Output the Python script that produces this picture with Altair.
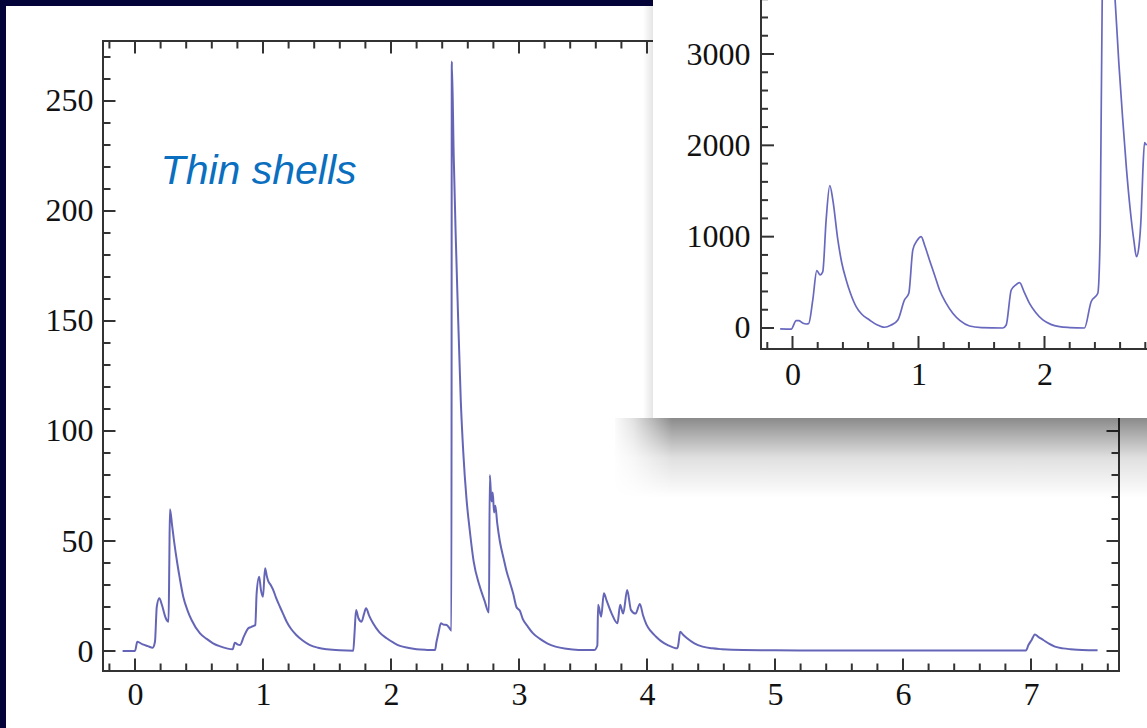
import altair as alt
import pandas as pd

# ---------------------------------------------------------------- data
# thin-shell spectrum (main panel)
thin_x = [-0.097, 0.0, 0.018, 0.06, 0.10, 0.138, 0.156, 0.17, 0.19, 0.21, 0.24, 0.262, 0.268, 0.273,
          0.29, 0.305, 0.33, 0.35, 0.377, 0.41, 0.443, 0.508, 0.56, 0.61, 0.66, 0.716, 0.763,
          0.78, 0.80, 0.82, 0.85, 0.87, 0.885, 0.91, 0.94, 0.95, 0.97, 0.984, 1.0, 1.016,
          1.03, 1.04, 1.06, 1.08, 1.10, 1.133, 1.16, 1.185, 1.22, 1.26, 1.31, 1.367, 1.43, 1.5, 1.6,
          1.705, 1.715, 1.727, 1.745, 1.77, 1.79, 1.805, 1.83, 1.86, 1.91, 1.966, 2.02, 2.07, 2.14,
          2.2, 2.28, 2.344, 2.355, 2.37, 2.39, 2.41, 2.435, 2.455, 2.472, 2.475, 2.49, 2.505, 2.52,
          2.545, 2.565, 2.59, 2.615, 2.645, 2.69, 2.73, 2.765, 2.772, 2.785, 2.795, 2.805, 2.815,
          2.83, 2.85, 2.88, 2.904, 2.93, 2.955, 2.98, 2.995, 3.005, 3.03, 3.07, 3.11, 3.164, 3.22,
          3.285, 3.37, 3.466, 3.587, 3.612, 3.618, 3.642, 3.663, 3.684, 3.724, 3.769, 3.79, 3.814,
          3.845, 3.875, 3.911, 3.944, 3.97, 3.996, 4.03, 4.071, 4.11, 4.162, 4.238, 4.245, 4.259,
          4.28, 4.313, 4.37, 4.434, 4.51, 4.586, 4.75, 5.0, 5.5, 6.0, 6.5, 6.96, 6.98, 7.005, 7.03,
          7.06, 7.096, 7.14, 7.187, 7.25, 7.308, 7.4, 7.52]
thin_y = [0, 0, 4.2, 3.0, 2.2, 1.5, 4.2, 20, 24, 21, 15, 13.3, 40, 64.4,
          57, 50, 40, 33, 24.7, 18.5, 14, 8, 5.5, 3.5, 2.2, 1.2, 0.8,
          3.8, 3.0, 2.7, 6.5, 9, 10.3, 11, 11.8, 26, 33.8, 27.7, 24.7, 37.6,
          34, 32, 30, 27.7, 24.5, 20, 16.5, 13.3, 10, 7.3, 4.8, 2.7, 1.5, 0.8, 0.3,
          0.1, 8, 18.6, 15, 13.3, 17, 19.4, 16, 12.6, 8.5, 5.8, 3.8, 2.3, 1.4,
          0.8, 0.5, 0.4, 4, 8, 12.6, 12, 11.8, 10.5, 9.2, 268, 225, 190, 160,
          114, 90, 69, 55, 41, 30, 23, 17.5, 80, 68, 72, 63, 66,
          58, 50, 42, 36, 31, 26, 20, 19, 18.5, 14.5, 11, 8, 5.5, 3.5,
          2, 1, 0.5, 0.4, 2.5, 21, 15.6, 26.2, 23, 17, 12.6, 21, 17,
          27.7, 18.6, 17, 21.4, 16, 12, 9, 6.5, 4.5, 2.7, 1.2, 3, 8.8,
          7.5, 5.8, 3.5, 2, 1.2, 0.8, 0.4, 0.3, 0.2, 0.2, 0.2, 0.2, 2.7, 5, 7.5,
          6.3, 5, 3.3, 2, 1.2, 0.8, 0.4, 0.3]

# thick-shell spectrum (inset)
thick_x = [-0.098, -0.01, 0.029, 0.05, 0.08, 0.109, 0.129, 0.161, 0.193, 0.22, 0.24, 0.267, 0.296,
           0.32, 0.36, 0.39, 0.426, 0.46, 0.505, 0.55, 0.611, 0.67, 0.73, 0.78, 0.836, 0.889,
           0.923, 0.955, 0.99, 1.021, 1.05, 1.087, 1.13, 1.167, 1.22, 1.272, 1.33, 1.405, 1.5,
           1.669, 1.696, 1.736, 1.77, 1.802, 1.84, 1.881, 1.93, 1.987, 2.05, 2.119, 2.2, 2.317,
           2.37, 2.423, 2.442, 2.458, 2.5, 2.56, 2.59, 2.62, 2.65, 2.68, 2.71, 2.73, 2.75, 2.767,
           2.78, 2.794, 2.81]
thick_y = [-10, -12, 80, 80, 55, 44, 50, 307, 628, 581, 614, 1184, 1560,
           1403, 965, 720, 526, 380, 234, 150, 88, 35, 8, 30, 88, 307,
           380, 855, 960, 1001, 900, 745, 570, 416, 270, 161, 80, 22, 5,
           0, 33, 416, 470, 497, 390, 270, 170, 88, 40, 15, 5, 0,
           288, 380, 1037, 3600, 4400, 3600, 2900, 2300, 1750, 1300, 950, 780, 900, 1220,
           1700, 2030, 2000]

main_xticks = [0, 1, 2, 3, 4, 5, 6, 7]
main_yticks = [0, 50, 100, 150, 200, 250]
inset_xticks = [0, 1, 2]
inset_yticks = [0, 1000, 2000, 3000]
caption = ["Thin shells"]

# minor tick positions
main_xminor = [round(i * 0.2, 1) for i in range(-1, 39) if i % 5 != 0]
main_yminor = [v for v in range(10, 280, 10) if v % 50 != 0]
inset_xminor = [round(i * 0.2, 1) for i in range(-1, 40) if i % 5 != 0]
inset_ymajor = [0, 1000, 2000, 3000, 4000]
inset_xmajor = [0, 1, 2, 3]
inset_yminor = [v for v in range(200, 4000, 200) if v % 1000 != 0]

# ---------------------------------------------------------------- layout
W, H = 1147, 728
NAVY = "#03033a"
FRAME = "#333333"
LINE = "#4a4aaa"
LINE2 = "#5858b8"
LABEL_FONT = "Liberation Serif"

MX = alt.Scale(domain=[-0.25, 7.6875], range=[103, 1119], nice=False, zero=False)
MY = alt.Scale(domain=[-9.09, 277.27], range=[671, 41], nice=False, zero=False)
IX = alt.Scale(domain=[-0.25, 7.69], range=[761, 761 + 7.94 * 126], nice=False, zero=False)
IY = alt.Scale(domain=[-230, 4000], range=[349, 349 - 4230 * 0.09133], nice=False, zero=False)

one = pd.DataFrame({"k": [0]})


def box(x0, x1, y0, y1, **kw):
    return alt.Chart(one).mark_rect(**kw).encode(
        x=alt.value(x0), x2=alt.value(x1), y=alt.value(y0), y2=alt.value(y1))


def xticks(vals, scale, ybase, length):
    df = pd.DataFrame({"v": vals})
    return alt.Chart(df).mark_rule(color=FRAME, strokeWidth=2).encode(
        x=alt.X("v:Q", scale=scale, axis=None),
        y=alt.value(ybase), y2=alt.value(ybase + length))


def yticks(vals, scale, xbase, length):
    df = pd.DataFrame({"v": vals})
    return alt.Chart(df).mark_rule(color=FRAME, strokeWidth=2).encode(
        y=alt.Y("v:Q", scale=scale, axis=None),
        x=alt.value(xbase), x2=alt.value(xbase + length))


def frame(xdom, ydom, xs, ys):
    df = pd.DataFrame({"x0": [xdom[0]], "x1": [xdom[1]], "y0": [ydom[0]], "y1": [ydom[1]]})
    return alt.Chart(df).mark_rect(fillOpacity=0, stroke=FRAME, strokeWidth=2).encode(
        x=alt.X("x0:Q", scale=xs, axis=None), x2="x1:Q",
        y=alt.Y("y0:Q", scale=ys, axis=None), y2="y1:Q")


def axis(values, orient, offset, pad):
    return alt.Axis(values=values, orient=orient, offset=offset, labelPadding=pad,
                    title=None, domain=False, ticks=False, tickSize=0, grid=False,
                    labelFlush=False, labelOverlap=False, zindex=1, format="d")


# ---------------------------------------------------------------- main panel
panel = box(6, W, 6, H, fill="white")

thin_df = pd.DataFrame({"x": thin_x, "y": thin_y})
thin_line = alt.Chart(thin_df).mark_line(
    color=LINE, strokeWidth=2, opacity=0.85, interpolate="monotone").encode(
    x=alt.X("x:Q", scale=MX, axis=axis(main_xticks, "bottom", -(H - 671), 8)),
    y=alt.Y("y:Q", scale=MY, axis=axis(main_yticks, "left", -103, 10)),
)

main_frame = frame([-0.25, 7.6875], [-9.09, 277.27], MX, MY)
main_ticks = [
    xticks(main_xticks, MX, 671, -12.5), xticks(main_xminor, MX, 671, -7.5),
    xticks(main_xticks, MX, 41, 12.5), xticks(main_xminor, MX, 41, 7.5),
    yticks(main_yticks, MY, 103, 12.5), yticks(main_yminor, MY, 103, 7.5),
    yticks(main_yticks, MY, 1119, -12.5), yticks(main_yminor, MY, 1119, -7.5),
]

cap_df = pd.DataFrame({"t": caption, "x": [0.2], "y": [212.3]})
cap = alt.Chart(cap_df).mark_text(
    font="Liberation Sans", fontStyle="italic", fontSize=41, color="#0b6fc0",
    align="left", baseline="alphabetic").encode(
    x=alt.X("x:Q", scale=MX, axis=None), y=alt.Y("y:Q", scale=MY, axis=None), text="t:N")

# ---------------------------------------------------------------- inset drop shadow + panel
shadow_stops = [
    {"offset": 0, "color": "rgba(0,0,0,0.46)"},
    {"offset": 0.2, "color": "rgba(0,0,0,0.32)"},
    {"offset": 0.5, "color": "rgba(0,0,0,0.12)"},
    {"offset": 1, "color": "rgba(0,0,0,0)"},
]
shadow_down = box(615, W, 418, 498, fill={"gradient": "linear", "x1": 0, "y1": 0, "x2": 0, "y2": 1,
                                          "stops": shadow_stops})
# soften the left end of the shadow with a white fade
shadow_fade = box(612, 672, 418, 500, fill={"gradient": "linear", "x1": 0, "y1": 0, "x2": 1, "y2": 0,
                                            "stops": [{"offset": 0, "color": "rgba(255,255,255,1)"},
                                                      {"offset": 0.35, "color": "rgba(255,255,255,0.75)"},
                                                      {"offset": 1, "color": "rgba(255,255,255,0)"}]})
shadow_side = box(643, 653, 0, 418, fill={"gradient": "linear", "x1": 0, "y1": 0, "x2": 1, "y2": 0,
                                          "stops": [{"offset": 0, "color": "rgba(0,0,0,0)"},
                                                    {"offset": 1, "color": "rgba(0,0,0,0.10)"}]})
inset_panel = box(653, W, 0, 418, fill="white")

thick_df = pd.DataFrame({"x": thick_x, "y": thick_y})
thick_line = alt.Chart(thick_df).mark_line(
    color=LINE2, strokeWidth=1.7, opacity=0.9, interpolate="monotone").encode(
    x=alt.X("x:Q", scale=IX, axis=axis(inset_xticks, "bottom", -(H - 349), 10)),
    y=alt.Y("y:Q", scale=IY, axis=axis(inset_yticks, "left", -761, 11)),
)

inset_frame = frame([-0.25, 7.69], [-230, 4000], IX, IY)
inset_ticks = [
    xticks(inset_xmajor, IX, 349, -13), xticks(inset_xminor, IX, 349, -7),
    yticks(inset_ymajor, IY, 761, 13), yticks(inset_yminor, IY, 761, 7),
]

chart = alt.layer(
    panel, thin_line, main_frame, *main_ticks, cap,
    shadow_side, shadow_down, shadow_fade, inset_panel,
    thick_line, inset_frame, *inset_ticks,
).resolve_scale(x="independent", y="independent").resolve_axis(
    x="independent", y="independent"
).properties(
    width=W, height=H, padding=0, autosize=alt.AutoSizeParams(type="none"),
).configure(background=NAVY).configure_view(strokeWidth=0).configure_axis(
    labelFont=LABEL_FONT, labelFontSize=32, labelColor="#111111",
)

chart.save("out.html", embed_options={"renderer": "svg", "actions": False})
